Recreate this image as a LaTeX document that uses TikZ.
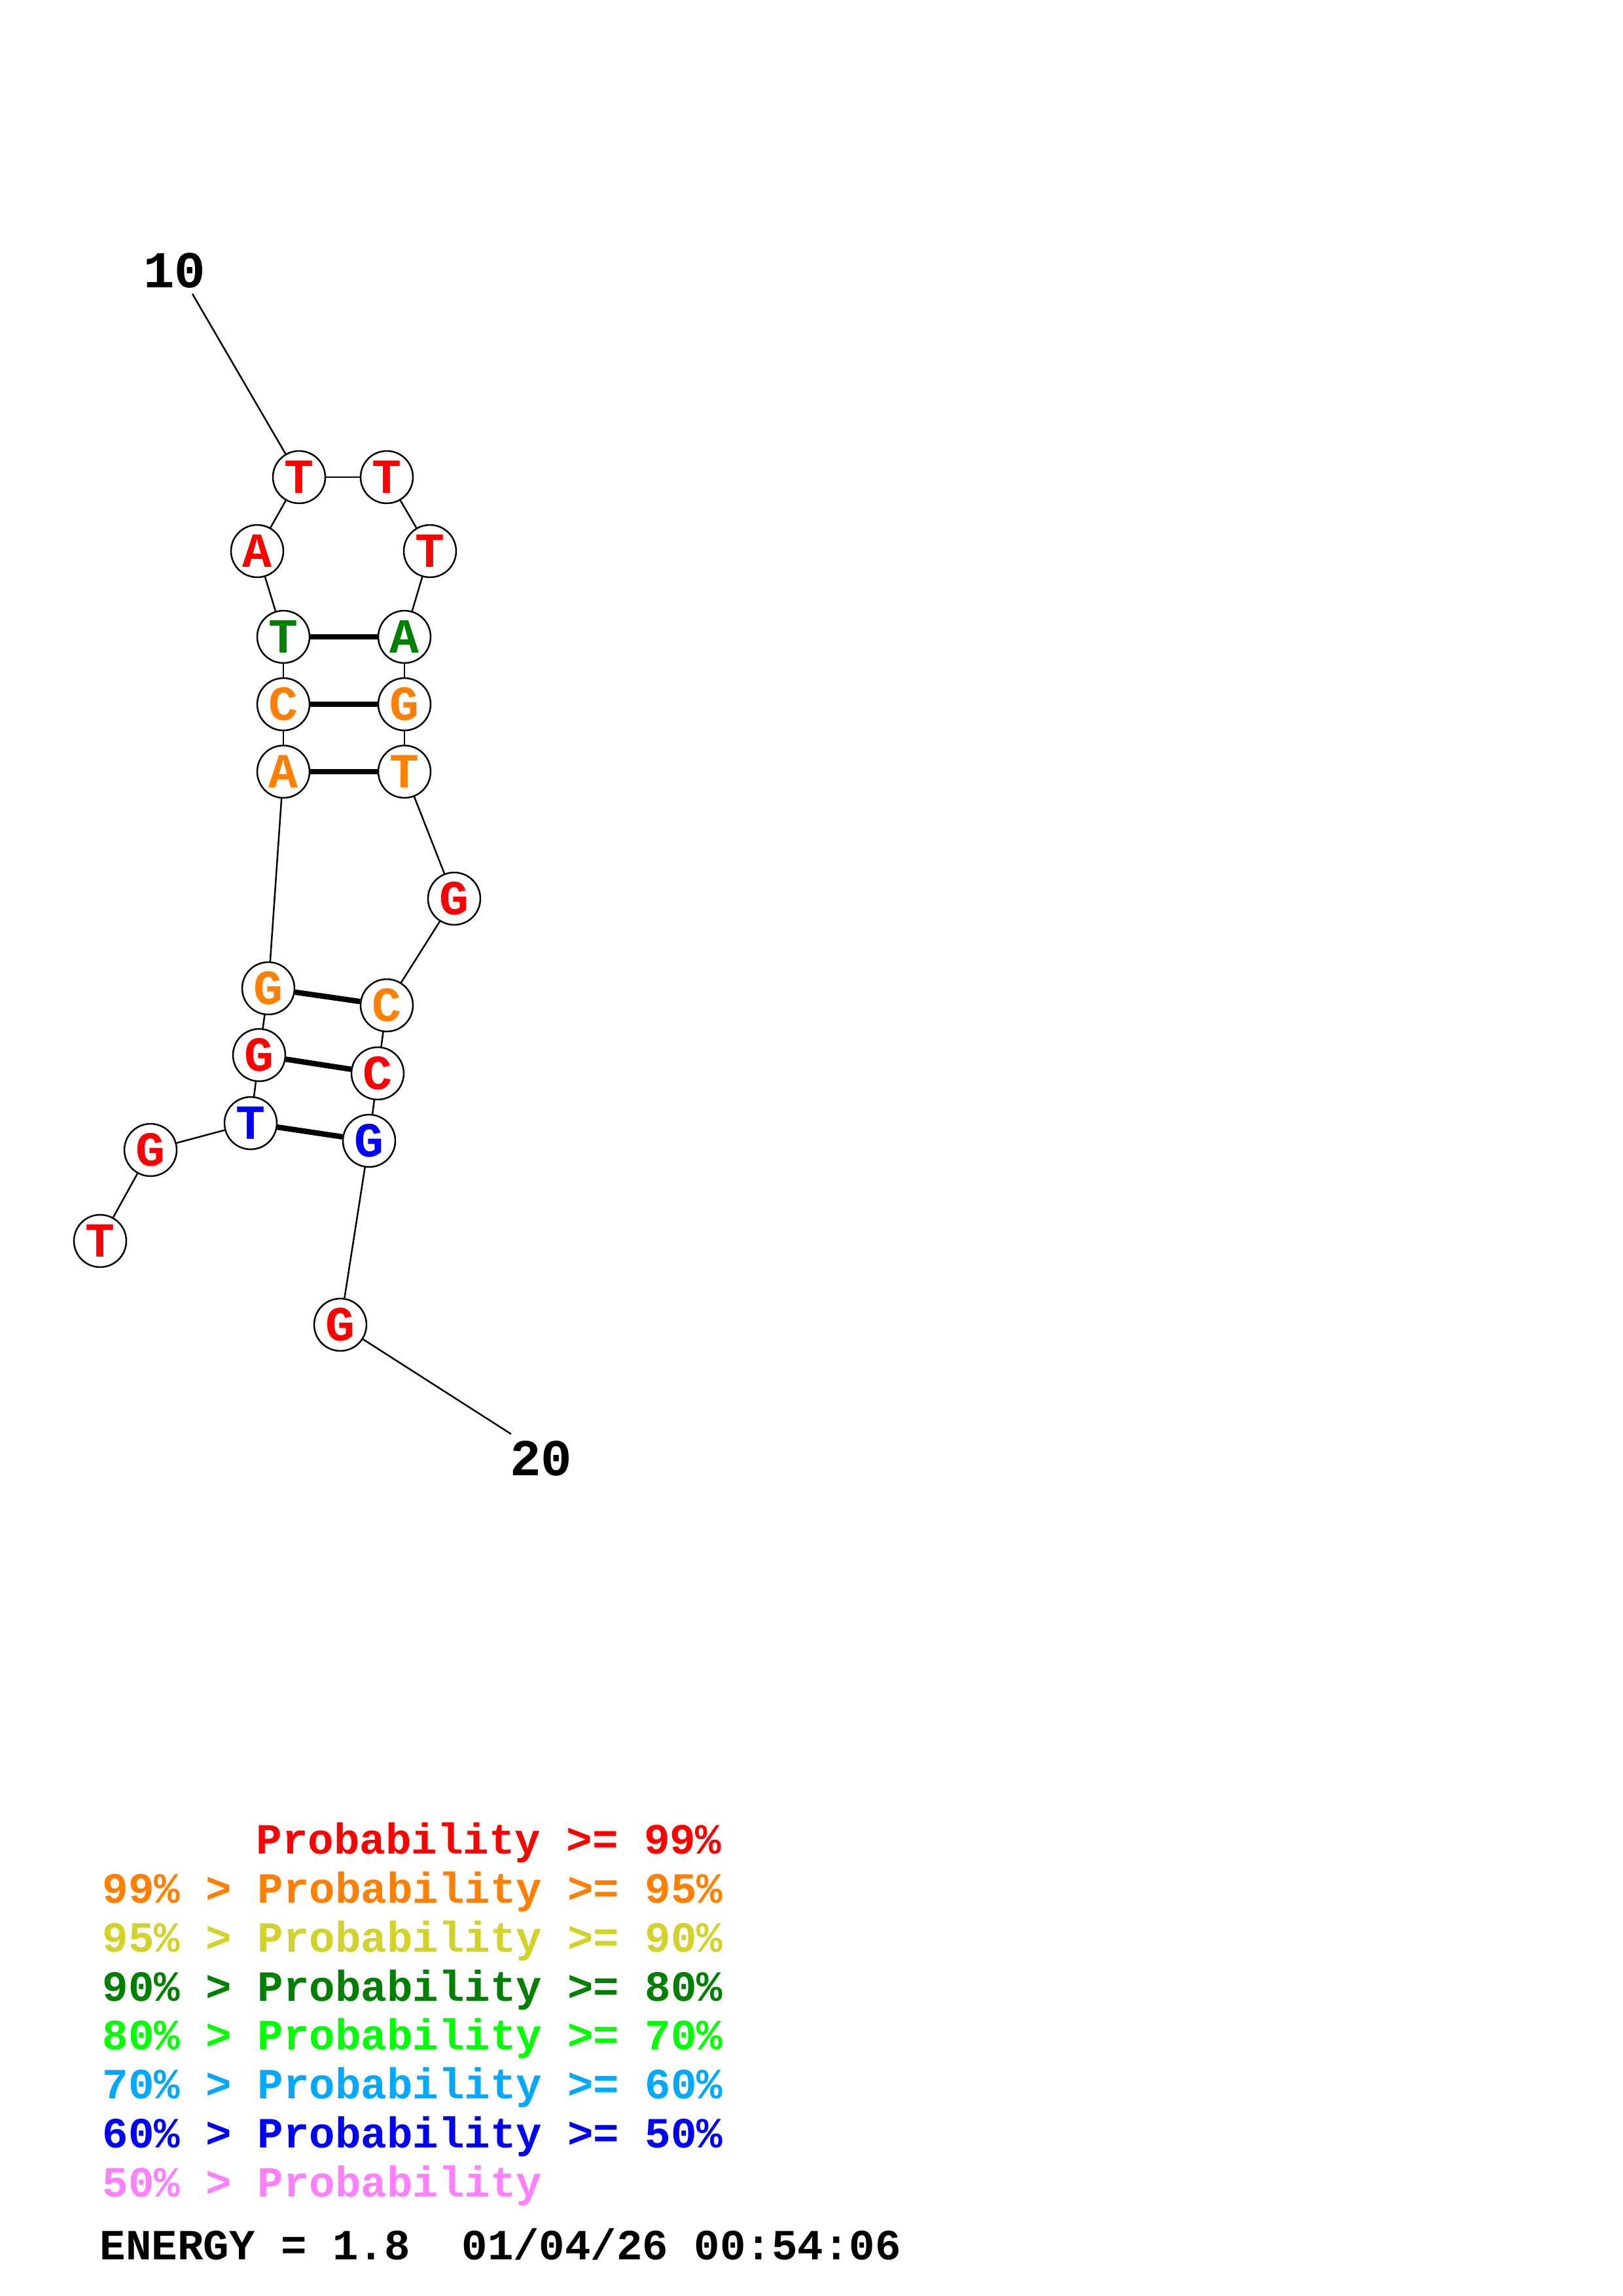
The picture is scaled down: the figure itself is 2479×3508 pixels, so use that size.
\documentclass[tikz,border=0pt]{standalone}
\usepackage{fontspec}
\setmonofont{Liberation Mono}
\definecolor{pRed}{RGB}{255,0,0}
\definecolor{pOrange}{RGB}{255,128,0}
\definecolor{pYellow}{RGB}{210,210,40}
\definecolor{pGreen}{RGB}{0,128,0}
\definecolor{pLime}{RGB}{0,255,0}
\definecolor{pSky}{RGB}{0,168,255}
\definecolor{pBlue}{RGB}{0,0,255}
\definecolor{pPink}{RGB}{255,128,255}

\begin{document}
\begin{tikzpicture}[x=0.24012bp,y=-0.24012bp,
    base/.style={circle,draw,line width=0.6bp,fill=white,minimum size=19.2bp,inner sep=0pt,
        font=\ttfamily\bfseries\fontsize{18bp}{18bp}\selectfont},
    backbone/.style={line width=0.6bp},
    pair/.style={line width=2bp},
    numlabel/.style={inner sep=0pt,font=\ttfamily\bfseries\fontsize{19bp}{19bp}\selectfont},
    legend/.style={anchor=base west,inner sep=0pt,font=\ttfamily\bfseries\fontsize{15.8bp}{15.8bp}\selectfont}]

    \useasboundingbox (0,0) rectangle (2479,3508);

    \newcommand*{\legx}{156}%
    \newcommand*{\legy}{2832.6}%
    \newcommand*{\legdy}{74.8}%

    % bases ↓
    \foreach \i/\x/\y/\col/\b in {
        1/153/1896/pRed/T, 2/230/1757/pRed/G, 3/383/1716/pBlue/T, 4/396/1612/pRed/G,
        5/410/1510/pOrange/G, 6/433/1179/pOrange/A, 7/433/1076/pOrange/C, 8/433/973/pGreen/T,
        9/393/842/pRed/A, 10/457/729/pRed/T, 11/591/729/pRed/T, 12/657/842/pRed/T,
        13/618/973/pGreen/A, 14/618/1076/pOrange/G, 15/618/1179/pOrange/T, 16/694/1373/pRed/G,
        17/591/1536/pOrange/C, 18/577/1640/pRed/C, 19/564/1743/pBlue/G, 20/520/2024/pRed/G}
        \node [base, text=\col] (n\i) at (\x,\y) {\b};

    % backbone ↓
    \foreach \i [count=\j from 2] in {1,...,19}
        \draw[backbone] (n\i) -- (n\j);

    % pairs ↓
    \foreach \a/\b in {3/19, 4/18, 5/17, 6/15, 7/14, 8/13}
        \draw[pair] (n\a) -- (n\b);

    % numbering ↓
    \node [numlabel] (lab10) at (267,413) {10};
    \coordinate (c10) at (294,449);
    \draw[backbone] (c10) -- (n10);
    \node [numlabel] (lab20) at (827,2228) {20};
    \coordinate (c20) at (781,2191);
    \draw[backbone] (n20) -- (c20);

    % legend ↓
    \node [legend, text=pRed] (leg1) at (391,\legy) {Probability >= 99\%};
    \foreach \hi/\lo/\col [count=\k] in {99/95/pOrange, 95/90/pYellow, 90/80/pGreen,
        80/70/pLime, 70/60/pSky, 60/50/pBlue}
        \node [legend, text=\col] (leg\k) at (\legx,{\legy + \k * \legdy}) {\hi\% > Probability >= \lo\%};
    \node [legend, text=pPink] (leg8) at (\legx,{\legy + 7 * \legdy}) {50\% > Probability};
    \node [legend] (energy) at (152,3452.5) {ENERGY = 1.8\ \ 01/04/26 00:54:06};

\end{tikzpicture}
\end{document}
